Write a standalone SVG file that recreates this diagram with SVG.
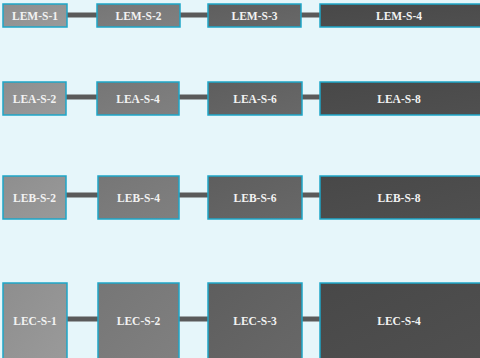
<svg xmlns="http://www.w3.org/2000/svg" width="480" height="358" viewBox="0 0 480 358">
<defs>
<linearGradient id="g1" x1="0" y1="0" x2="1" y2="1"><stop offset="0" stop-color="#8e8e8e"/><stop offset="1" stop-color="#9a9a9a"/></linearGradient>
<linearGradient id="g2" x1="0" y1="0" x2="1" y2="1"><stop offset="0" stop-color="#767676"/><stop offset="1" stop-color="#808080"/></linearGradient>
<linearGradient id="g3" x1="0" y1="0" x2="1" y2="1"><stop offset="0" stop-color="#5e5e5e"/><stop offset="1" stop-color="#686868"/></linearGradient>
<linearGradient id="g4" x1="0" y1="0" x2="1" y2="1"><stop offset="0" stop-color="#484848"/><stop offset="1" stop-color="#505050"/></linearGradient>
</defs>
<style>
.n rect{stroke:#1ea6c8;stroke-width:1.5}
.s1{fill:url(#g1)}.s2{fill:url(#g2)}.s3{fill:url(#g3)}.s4{fill:url(#g4)}
.n text{font-family:"Liberation Serif",serif;font-weight:bold;font-size:11.5px;fill:#f2f2f2;text-anchor:middle;dominant-baseline:central}
.c line{stroke:#5a5a5a;stroke-width:5}
</style>
<rect x="0" y="0" width="480" height="358" fill="#e6f6fa"/>
<g class="c">
<line x1="67" y1="15" x2="97" y2="15"/><line x1="180" y1="15" x2="208" y2="15"/><line x1="301" y1="15" x2="320" y2="15"/>
<line x1="66" y1="97" x2="97" y2="97"/><line x1="179" y1="97" x2="208" y2="97"/><line x1="302" y1="97" x2="320" y2="97"/>
<line x1="66" y1="195" x2="98" y2="195"/><line x1="179" y1="195" x2="208" y2="195"/><line x1="302" y1="195" x2="320" y2="195"/>
<line x1="67" y1="319" x2="98" y2="319"/><line x1="179" y1="319" x2="208" y2="319"/><line x1="302" y1="319" x2="320" y2="319"/>
</g>
<g id="LEM-S-1" class="n"><rect class="s1" x="3" y="4" width="64" height="23"/><text x="35" y="15.5">LEM-S-1</text></g>
<g id="LEM-S-2" class="n"><rect class="s2" x="97" y="4" width="83" height="23"/><text x="138.5" y="15.5">LEM-S-2</text></g>
<g id="LEM-S-3" class="n"><rect class="s3" x="208" y="4" width="93" height="23"/><text x="254.5" y="15.5">LEM-S-3</text></g>
<g id="LEM-S-4" class="n"><rect class="s4" x="320" y="4" width="170" height="23"/><text x="399" y="15.5">LEM-S-4</text></g>
<g id="LEA-S-2" class="n"><rect class="s1" x="3" y="82" width="63" height="33"/><text x="34.5" y="98.5">LEA-S-2</text></g>
<g id="LEA-S-4" class="n"><rect class="s2" x="97" y="82" width="82" height="33"/><text x="138" y="98.5">LEA-S-4</text></g>
<g id="LEA-S-6" class="n"><rect class="s3" x="208" y="82" width="94" height="33"/><text x="255" y="98.5">LEA-S-6</text></g>
<g id="LEA-S-8" class="n"><rect class="s4" x="320" y="82" width="170" height="33"/><text x="399" y="98.5">LEA-S-8</text></g>
<g id="LEB-S-2" class="n"><rect class="s1" x="3" y="176" width="63" height="43"/><text x="34.5" y="197.5">LEB-S-2</text></g>
<g id="LEB-S-4" class="n"><rect class="s2" x="98" y="176" width="81" height="43"/><text x="138.5" y="197.5">LEB-S-4</text></g>
<g id="LEB-S-6" class="n"><rect class="s3" x="208" y="176" width="94" height="43"/><text x="255" y="197.5">LEB-S-6</text></g>
<g id="LEB-S-8" class="n"><rect class="s4" x="320" y="176" width="170" height="43"/><text x="399" y="197.5">LEB-S-8</text></g>
<g id="LEC-S-1" class="n"><rect class="s1" x="3" y="283" width="64" height="80"/><text x="35" y="321">LEC-S-1</text></g>
<g id="LEC-S-2" class="n"><rect class="s2" x="98" y="283" width="81" height="80"/><text x="138.5" y="321">LEC-S-2</text></g>
<g id="LEC-S-3" class="n"><rect class="s3" x="208" y="283" width="94" height="80"/><text x="255" y="321">LEC-S-3</text></g>
<g id="LEC-S-4" class="n"><rect class="s4" x="320" y="283" width="170" height="80"/><text x="399" y="321">LEC-S-4</text></g>
</svg>
